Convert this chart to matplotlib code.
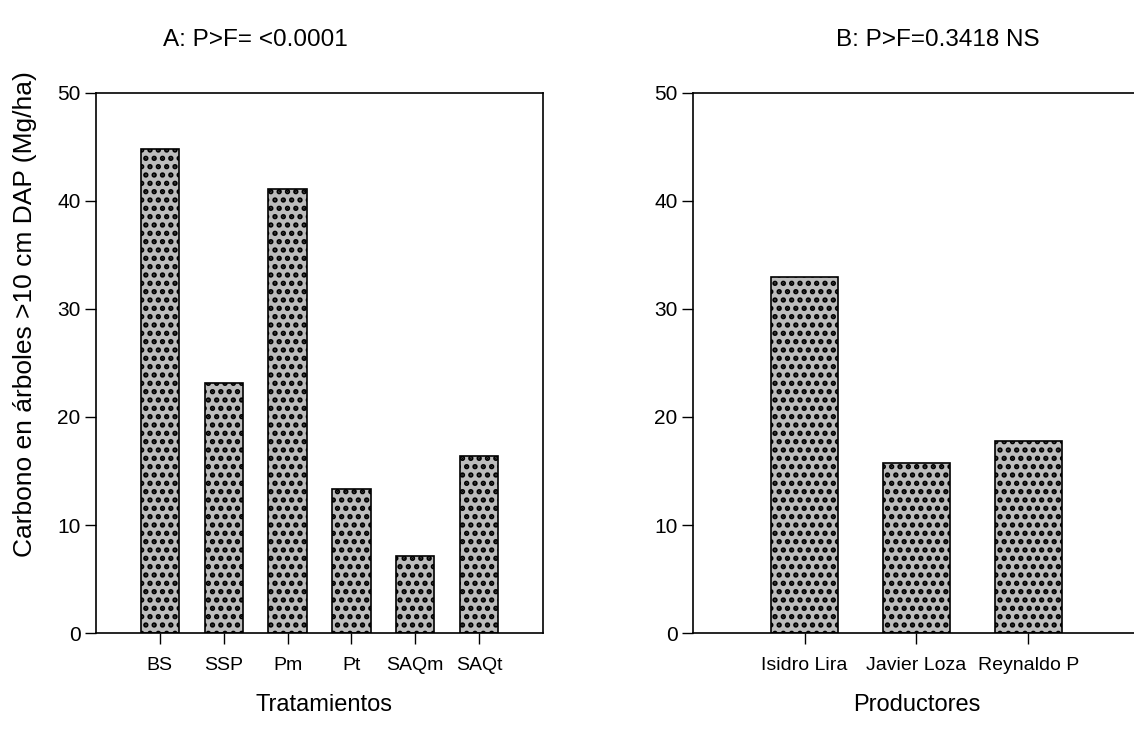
import numpy as np
import matplotlib
matplotlib.use("Agg")
import matplotlib.pyplot as plt

plt.rcParams['hatch.linewidth'] = 2.6
plt.rcParams['hatch.color'] = 'black'

# Data
tratamientos = ['BS', 'SSP', 'Pm', 'Pt', 'SAQm', 'SAQt']
carbono_trat = [44.8, 23.1, 41.1, 13.35, 7.15, 16.4]

productores = ['Isidro Lira', 'Javier Loza', 'Reynaldo P']
carbono_prod = [32.9, 15.7, 17.8]

titulo_a = 'A: P>F= <0.0001'
titulo_b = 'B: P>F=0.3418 NS'
ylabel = 'Carbono en árboles >10 cm DAP (Mg/ha)'

font = ['Liberation Sans', 'DejaVu Sans']

W, H = 1134, 740
fig = plt.figure(figsize=(W / 100, H / 100), dpi=100)

def px_axes(x0, y0, x1, y1):
    return fig.add_axes([x0 / W, 1 - y1 / H, (x1 - x0) / W, (y1 - y0) / H])

ax1 = px_axes(96, 92.5, 543, 633.3)
ax2 = px_axes(692.7, 92.5, 1140, 633.3)

def draw(ax, cats, vals, xlim, right_spine):
    x = np.arange(len(cats))
    ax.bar(x, vals, width=0.6, color='#bcbcbc', edgecolor='black',
           linewidth=1.2, hatch='..')
    ax.set_xlim(*xlim)
    ax.set_ylim(0, 50)
    ax.set_yticks([0, 10, 20, 30, 40, 50])
    ax.set_xticks(x)
    ax.set_xticklabels(cats, family=font, fontsize=14)
    for lab in ax.get_yticklabels():
        lab.set_family(font)
        lab.set_fontsize(15)
    ax.tick_params(direction='out', length=8, width=1)
    ax.tick_params(axis='x', pad=9)
    ax.tick_params(axis='y', pad=3)
    for s in ax.spines.values():
        s.set_linewidth(1.2)
    ax.spines['right'].set_visible(right_spine)

draw(ax1, tratamientos, carbono_trat, (-1, 6), True)
draw(ax2, productores, carbono_prod, (-1, 3), False)

fig.text(255 / W, 1 - 40 / H, titulo_a, ha='center', va='center',
         family=font, fontsize=17.5)
fig.text(938 / W, 1 - 40 / H, titulo_b, ha='center', va='center',
         family=font, fontsize=17.5)
fig.text(324 / W, 1 - 705 / H, 'Tratamientos', ha='center', va='center',
         family=font, fontsize=17)
fig.text(917 / W, 1 - 705 / H, 'Productores', ha='center', va='center',
         family=font, fontsize=17)
fig.text(25 / W, 1 - 314 / H, ylabel, ha='center', va='center',
         rotation=90, family=font, fontsize=19)

fig.savefig('out.png', dpi=100)
